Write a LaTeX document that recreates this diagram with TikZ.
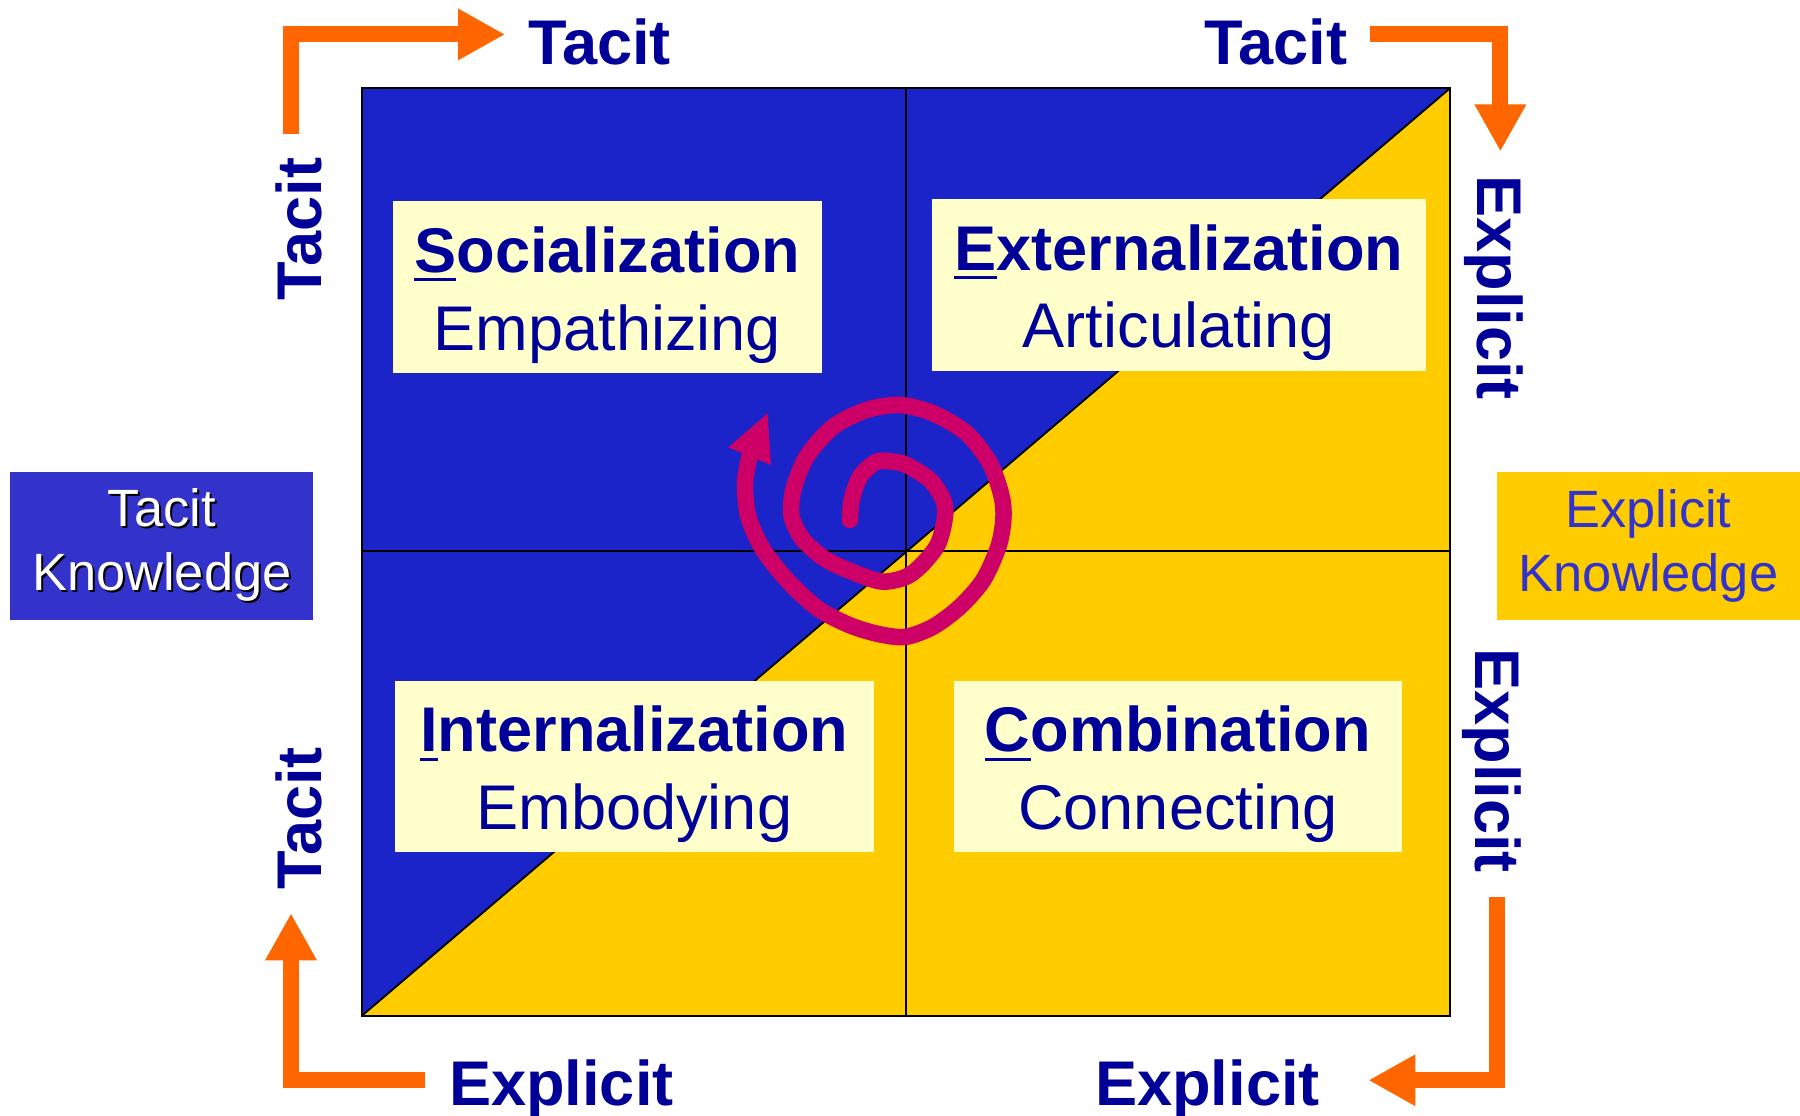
\documentclass[tikz,border=0pt]{standalone}
\usepackage{fontspec}
\setmainfont{Liberation Sans}
\usetikzlibrary{arrows.meta}
\definecolor{navy}{HTML}{000099}
\definecolor{qblue}{HTML}{1B24C8}
\definecolor{kblue}{HTML}{3333CC}
\definecolor{qyellow}{HTML}{FFCC00}
\definecolor{paleyellow}{HTML}{FFFFCC}
\definecolor{orangearrow}{HTML}{FF6600}
\definecolor{spiralred}{HTML}{CC0066}
\newcommand\ulfirst[1]{\setbox0\hbox{#1}\rlap{\rule[-3.8pt]{\wd0}{1.3pt}}\box0}
\newcommand\shadowed[1]{\rlap{\hspace{0.9pt}\raisebox{-0.9pt}{\color{black}#1}}#1}
\newcommand\topstrut{\rule{0pt}{27pt}}
\begin{document}
\begin{tikzpicture}[x=0.5pt,y=-0.5pt,
  qbox/.style={fill=paleyellow, draw=none, align=center, text=navy, inner sep=2pt,
    font=\fontsize{27.5}{33.75}\selectfont},
  kbox/.style={draw=none, align=center, inner sep=2pt, minimum width=132pt, minimum height=64.5pt,
    font=\fontsize{22.85}{27.9}\selectfont},
  lab/.style={text=navy, inner sep=0pt, anchor=base, font=\fontsize{27.5}{33}\selectfont\bfseries},
  orarrow/.style={draw=orangearrow, line width=7pt, line join=miter,
    -{Triangle[width=21pt,length=20.5pt]}},
  spiralpath/.style={draw=spiralred, line width=7.2pt, line cap=round, line join=round},
  gridline/.style={draw=black, line width=0.8pt}
]
\useasboundingbox (0,0) rectangle (1568,972);

% the square
\coordinate (tl) at (315,77);
\coordinate (tr) at (1263,77);
\coordinate (bl) at (315,885);
\coordinate (br) at (1263,885);
\coordinate (mt) at (789,77);
\coordinate (mb) at (789,885);
\coordinate (ml) at (315,480);
\coordinate (mr) at (1263,480);
\fill[qyellow] (tl) rectangle (br);
\fill[qblue] (tl) -- (tr) -- (bl) -- cycle;
\draw[gridline] (bl) -- (tr);
\draw[gridline] (mt) -- (mb);
\draw[gridline] (ml) -- (mr);
\draw[gridline] (tl) rectangle (br);

% quadrant boxes
\node[qbox, minimum width=187pt, minimum height=75pt] (soc) at (529,250)
  {\topstrut\textbf{\ulfirst{S}ocialization}\\Empathizing};
\node[qbox, minimum width=215pt, minimum height=75pt] (ext) at (1027,248)
  {\topstrut\textbf{\ulfirst{E}xternalization}\\Articulating};
\node[qbox, minimum width=208.5pt, minimum height=74.5pt] (int) at (552.5,667.5)
  {\topstrut\textbf{\ulfirst{I}nternalization}\\Embodying};
\node[qbox, minimum width=195pt, minimum height=74.5pt] (com) at (1026,667.5)
  {\topstrut\textbf{\ulfirst{C}ombination}\\Connecting};

% knowledge boxes
\node[kbox, fill=kblue, text=white] (tk) at (141,475.5)
  {\shadowed{Tacit}\\\shadowed{Knowledge}};
\node[kbox, fill=qyellow, text=kblue] (ek) at (1436,475.5)
  {Explicit\\Knowledge};

% outer labels
\node[lab] (ttl) at (522.3,56.6) {Tacit};
\node[lab] (ttr) at (1111.3,56.6) {Tacit};
\node[lab] (bel) at (489,962.6) {Explicit};
\node[lab] (ber) at (1051.8,962.6) {Explicit};
\node[lab, rotate=90] (ltu) at (280,199.7) {Tacit};
\node[lab, rotate=90] (ltl) at (280,713) {Tacit};
\node[lab, rotate=-90] (reu) at (1287,250.5) {Explicit};
\node[lab, rotate=-90] (rel) at (1285,662.5) {Explicit};

% orange arrows
\coordinate (a1s) at (253.5,117);
\coordinate (a1c) at (253.5,30);
\coordinate (a1e) at (440,30);
\coordinate (a2s) at (1193,30);
\coordinate (a2c) at (1307,30);
\coordinate (a2e) at (1307,132);
\coordinate (a3s) at (370.5,941);
\coordinate (a3c) at (253.5,941);
\coordinate (a3e) at (253.5,795.5);
\coordinate (a4s) at (1304,781);
\coordinate (a4c) at (1304,941);
\coordinate (a4e) at (1192,941);
\draw[orarrow] (a1s) -- (a1c) -- (a1e);
\draw[orarrow] (a2s) -- (a2c) -- (a2e);
\draw[orarrow] (a3s) -- (a3c) -- (a3e);
\draw[orarrow] (a4s) -- (a4c) -- (a4e);

% spiral
\draw[spiralpath] plot[smooth, tension=0.5] coordinates {
  (740.4,452.9) (741.9,435.6) (749.2,415.2) (763.7,402.2) (778.2,402.2)
  (789.8,405.1) (810.1,418.1) (821.7,435.5) (823.2,450.1) (817.4,473.3)
  (804.3,490.7) (789.8,502.3) (769.5,506.7) (749.2,500.9) (720.1,487.8)
  (699.8,470.4) (689.6,450.1) (691.1,426.8) (702.7,397.8) (725.9,371.7)
  (754.8,357.2) (784.0,352.8) (813.0,360.1) (842.1,377.5) (862.4,403.6)
  (872.6,432.6) (874.0,453.0) (869.7,476.2) (856.6,505.2) (836.3,528.5)
  (813.0,545.9) (789.8,554.6) (769.5,553.2) (743.3,545.9) (714.3,531.4)
  (688.2,508.1) (664.9,479.1) (651.9,450.1) (649.0,421.0) (653.0,397.2)};
\fill[spiralred] (634.5,389.7) -- (668.7,360.1) -- (671.6,405.1) -- cycle;
\end{tikzpicture}
\end{document}
